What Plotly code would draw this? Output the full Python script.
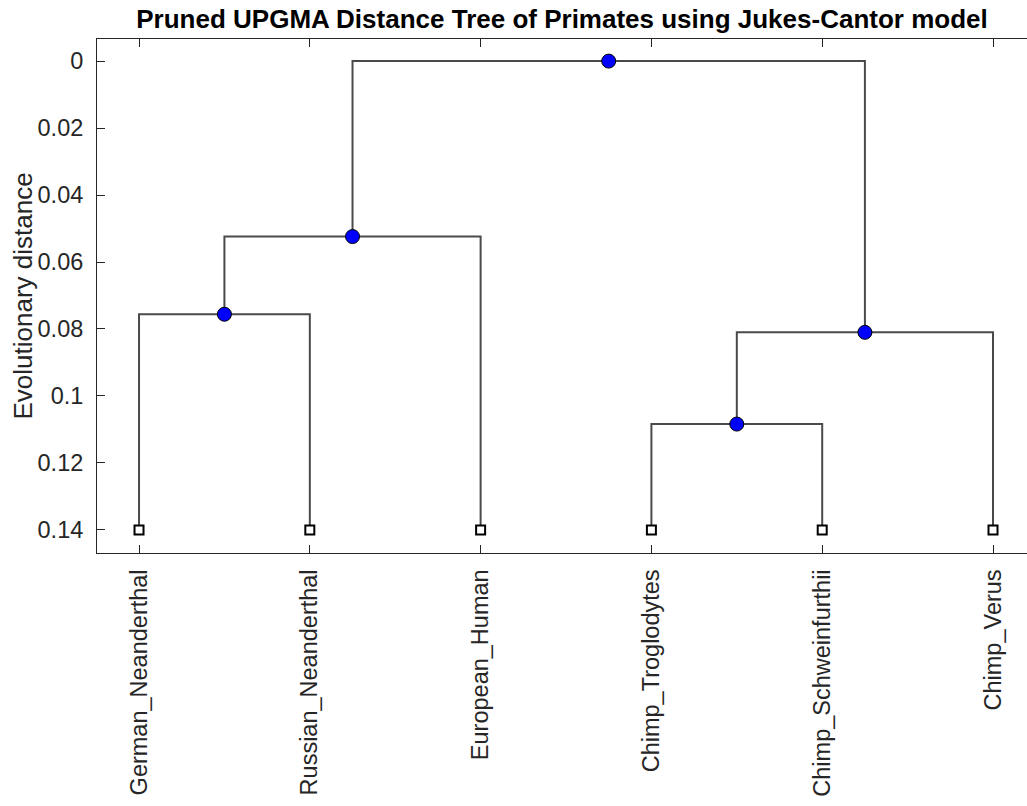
import plotly.graph_objects as go

# ---- data ----
leaf_names = ["German_Neanderthal", "Russian_Neanderthal", "European_Human",
              "Chimp_Troglodytes", "Chimp_Schweinfurthii", "Chimp_Verus"]
leaf_dist = [0.14, 0.14, 0.14, 0.14, 0.14, 0.14]

# internal nodes: children refer to leaves (L#) or internal nodes (N#)
node_children = [("L0", "L1"),  # N0 Neanderthals
                 ("N0", "L2"),  # N1 Neanderthals + Human
                 ("L3", "L4"),  # N2 Troglodytes + Schweinfurthii
                 ("N2", "L5"),  # N3 chimps
                 ("N1", "N3")]  # N4 root
node_dist = [0.0756, 0.0524, 0.1084, 0.0810, 0.0]

y_ticks = [0, 0.02, 0.04, 0.06, 0.08, 0.1, 0.12, 0.14]
y_tick_text = ["0", "0.02", "0.04", "0.06", "0.08", "0.1", "0.12", "0.14"]

# ---- layout of tree ----
leaf_x = list(range(1, len(leaf_names) + 1))
node_x = [None] * len(node_children)


def pos(ref):
    kind, idx = ref[0], int(ref[1:])
    if kind == "L":
        return leaf_x[idx], leaf_dist[idx]
    return node_x[idx], node_dist[idx]


for i, (a, b) in enumerate(node_children):
    node_x[i] = (pos(a)[0] + pos(b)[0]) / 2

line_x, line_y = [], []
for i, (a, b) in enumerate(node_children):
    ax_, ay_ = pos(a)
    bx_, by_ = pos(b)
    ny = node_dist[i]
    line_x += [ax_, ax_, bx_, bx_, None]
    line_y += [ay_, ny, ny, by_, None]

axis_col = "#262626"
font_family = "Liberation Sans, Arial, Helvetica, sans-serif"

W, H = 1027, 806

fig = go.Figure()
fig.add_trace(go.Scatter(x=line_x, y=line_y, mode="lines",
                         line=dict(color="#4a4a4a", width=2),
                         hoverinfo="skip", showlegend=False))
fig.add_trace(go.Scatter(x=leaf_x, y=leaf_dist, mode="markers",
                         marker=dict(symbol="square", size=9, color="white",
                                     line=dict(color="black", width=2)),
                         text=leaf_names, showlegend=False))
fig.add_trace(go.Scatter(x=node_x, y=node_dist, mode="markers",
                         marker=dict(symbol="circle", size=14, color="#0000ff",
                                     line=dict(color="black", width=1)),
                         showlegend=False))

fig.update_layout(
    width=W, height=H,
    margin=dict(l=97, r=0, t=39, b=253),
    paper_bgcolor="white", plot_bgcolor="white",
    font=dict(family=font_family, size=23.5, color=axis_col),
    title=dict(text="<b>Pruned UPGMA Distance Tree of Primates using Jukes-Cantor model</b>",
               x=562 / W, xanchor="center", xref="container",
               y=1 - 19 / H, yanchor="middle", yref="container",
               font=dict(size=26, color="black", family=font_family)),
    xaxis=dict(range=[0.754, 6.199], tickvals=leaf_x, ticktext=leaf_names,
               tickangle=-90, ticks="inside", ticklen=8, tickcolor=axis_col,
               showline=True, linecolor=axis_col, linewidth=1, mirror="ticks",
               showgrid=False, zeroline=False, ticklabelstandoff=6),
    yaxis=dict(range=[0.1469, -0.0066], tickvals=y_ticks, ticktext=y_tick_text,
               ticks="inside", ticklen=8, tickcolor=axis_col,
               showline=True, linecolor=axis_col, linewidth=1, mirror=False,
               showgrid=False, zeroline=False, ticklabelstandoff=8),
    annotations=[dict(text="Evolutionary distance", textangle=-90,
                      xref="paper", yref="paper",
                      x=(22.5 - 97) / 930, y=0.5, xanchor="center", yanchor="middle",
                      showarrow=False, font=dict(size=26, color=axis_col))],
)

fig.write_html("out.html",
               config={"displayModeBar": False},
               post_script="document.body.style.margin='0';document.body.style.overflow='hidden';")
